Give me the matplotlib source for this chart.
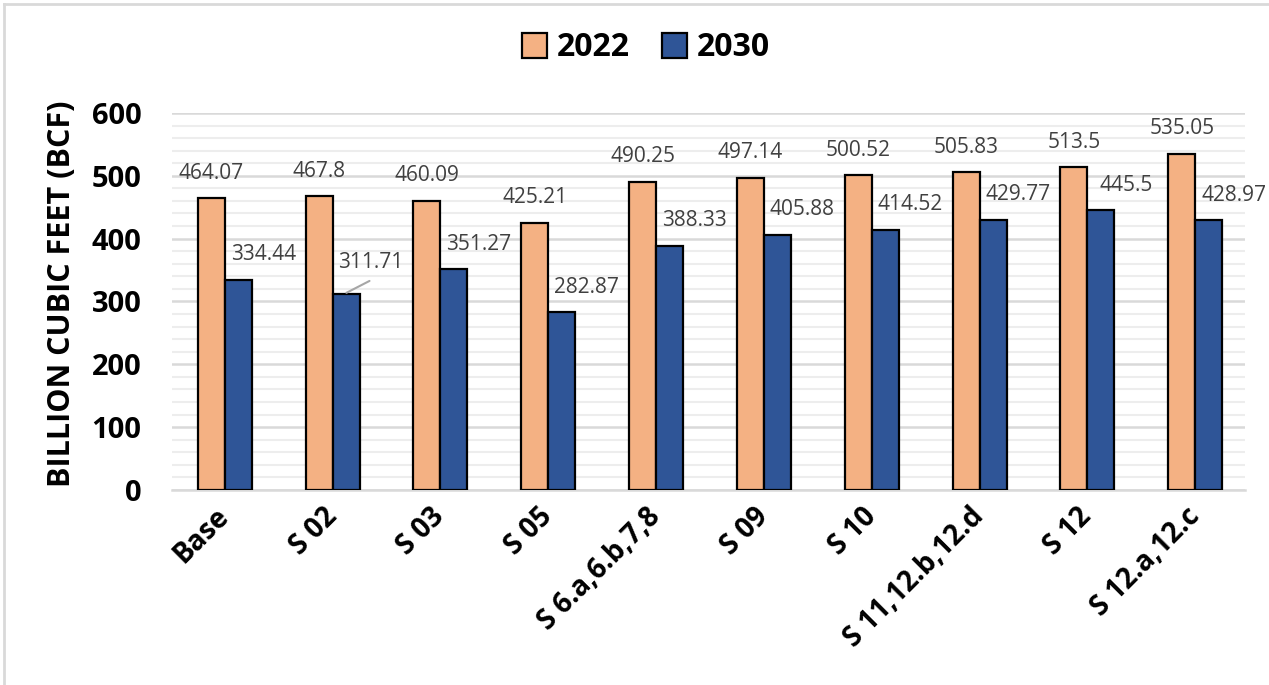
import matplotlib.pyplot as plt
import numpy as np
from matplotlib.patches import Patch

plt.rcParams['font.family'] = ['Open Sans', 'DejaVu Sans']

categorias = ['Base', 'S 02', 'S 03', 'S 05', 'S 6.a,6.b,7,8', 'S 09', 'S 10',
              'S 11,12.b,12.d', 'S 12', 'S 12.a,12.c']
valores_2022 = [464.07, 467.8, 460.09, 425.21, 490.25, 497.14, 500.52, 505.83, 513.5, 535.05]
valores_2030 = [334.44, 311.71, 351.27, 282.87, 388.33, 405.88, 414.52, 429.77, 445.5, 428.97]
rotulos_2022 = ['464.07', '467.8', '460.09', '425.21', '490.25', '497.14', '500.52', '505.83', '513.5', '535.05']
rotulos_2030 = ['334.44', '311.71', '351.27', '282.87', '388.33', '405.88', '414.52', '429.77', '445.5', '428.97']

cor_2022 = '#F4B183'
cor_2030 = '#2F5597'
cor_texto = '#404040'

fig = plt.figure(figsize=(12.69, 6.85), dpi=100)
ax = fig.add_axes([0.1355, 0.2847, 0.8455, 0.5504])

x = np.arange(len(categorias))
w = 0.25
ax.bar(x - w / 2, valores_2022, w, color=cor_2022, edgecolor='black', linewidth=1.6, zorder=3)
ax.bar(x + w / 2, valores_2030, w, color=cor_2030, edgecolor='black', linewidth=1.6, zorder=3)

# rotulos de dados
for i, (v, r) in enumerate(zip(valores_2022, rotulos_2022)):
    ax.annotate(r, (x[i] - w / 2, v), xytext=(0, 18), textcoords='offset points',
                ha='center', va='center', fontsize=15, color=cor_texto, zorder=4)
for i, (v, r) in enumerate(zip(valores_2030, rotulos_2030)):
    dy = 23 if i == 1 else 18
    ax.annotate(r, (x[i] + w / 2, v), xytext=(18, dy), textcoords='offset points',
                ha='center', va='center', fontsize=15, color=cor_texto, zorder=4)

# linha de chamada do S 02
ax.annotate('', xy=(x[1] + w / 2 - 0.02, valores_2030[1]), xytext=(x[1] + w / 2 + 0.24, valores_2030[1] + 23),
            arrowprops=dict(arrowstyle='-', color='#A6A6A6', lw=1.5), zorder=4)

ax.set_xlim(-0.49, 9.46)
ax.set_ylim(0, 600)
ax.set_yticks(range(0, 601, 100))
ax.set_yticks(range(0, 601, 20), minor=True)
ax.grid(axis='y', which='major', color='#D9D9D9', linewidth=1.8, zorder=0)
ax.grid(axis='y', which='minor', color='#EDEDED', linewidth=1.5, zorder=0)
ax.tick_params(axis='y', which='both', length=0, pad=22, labelsize=21)
for t in ax.get_yticklabels():
    t.set_fontweight('bold')

ax.set_xticks(x)
ax.set_xticklabels(categorias, rotation=45, ha='right', va='center',
                   rotation_mode='anchor', fontsize=20, fontweight='bold')
ax.tick_params(axis='x', length=0, pad=16)

for s in ['top', 'right', 'left']:
    ax.spines[s].set_visible(False)
ax.spines['bottom'].set_color('#D9D9D9')
ax.spines['bottom'].set_linewidth(1.8)

fig.text(62 / 1269, 1 - 294 / 685, 'BILLION CUBIC FEET (BCF)', rotation=90,
         ha='center', va='center', fontsize=22, fontweight='bold')

handles = [Patch(facecolor=cor_2022, edgecolor='black', linewidth=1.6, label='2022'),
           Patch(facecolor=cor_2030, edgecolor='black', linewidth=1.6, label='2030')]
fig.legend(handles=handles, loc='center', bbox_to_anchor=(646 / 1269, 1 - 48 / 685), ncol=2,
           frameon=False, prop={'weight': 'bold', 'size': 23}, handlelength=0.8, handleheight=0.8,
           handletextpad=0.3, columnspacing=1.0)

# borda da area do grafico
fig.add_artist(plt.Line2D([4 / 1269, 4 / 1269], [0, 1 - 4 / 685], color='#D9D9D9', lw=2))
fig.add_artist(plt.Line2D([4 / 1269, 1], [1 - 4 / 685, 1 - 4 / 685], color='#D9D9D9', lw=2))

fig.savefig('out.png', dpi=100)
